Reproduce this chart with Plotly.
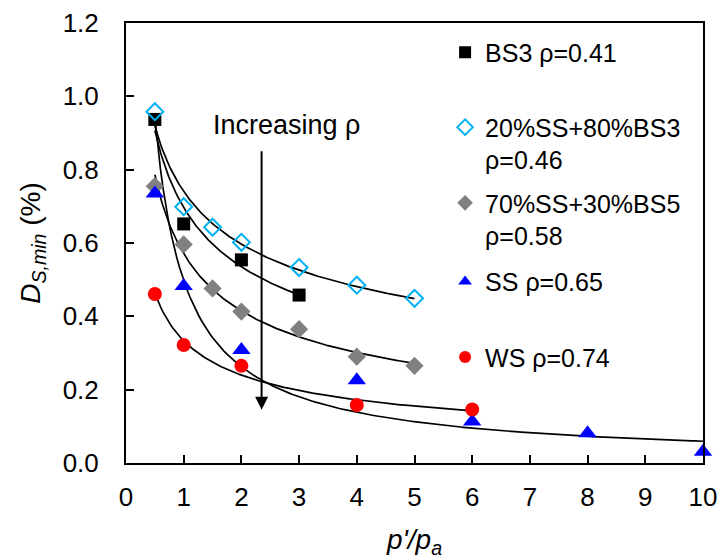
import numpy as np
import plotly.graph_objects as go

# ---- data ----
bs3_x = [0.5, 1, 2, 3]
bs3_y = [0.937, 0.652, 0.554, 0.458]

mix20_x = [0.5, 1, 1.5, 2, 3, 4, 5]
mix20_y = [0.958, 0.699, 0.643, 0.602, 0.533, 0.485, 0.449]

mix70_x = [0.5, 1, 1.5, 2, 3, 4, 5]
mix70_y = [0.755, 0.596, 0.476, 0.413, 0.365, 0.290, 0.265]

ss_x = [0.5, 1, 2, 4, 6, 8, 10]
ss_y = [0.735, 0.483, 0.308, 0.226, 0.113, 0.081, 0.031]

ws_x = [0.5, 1, 2, 4, 6]
ws_y = [0.461, 0.322, 0.265, 0.158, 0.146]

names = ["BS3 ρ=0.41", "20%SS+80%BS3<br>ρ=0.46", "70%SS+30%BS5<br>ρ=0.58",
         "SS ρ=0.65", "WS ρ=0.74"]

x_ticks = list(range(0, 11))
y_ticks = [0.0, 0.2, 0.4, 0.6, 0.8, 1.0, 1.2]

FONT = "Liberation Sans, Arial, sans-serif"

series = [
    (bs3_x, bs3_y, names[0], dict(symbol="square", color="black", size=13)),
    (mix20_x, mix20_y, names[1], dict(symbol="diamond-open", color="#00B0F0", size=13,
                                       line=dict(width=2, color="#00B0F0"))),
    (mix70_x, mix70_y, names[2], dict(symbol="diamond", color="#808080", size=14)),
    (ss_x, ss_y, names[3], dict(symbol="triangle-up", color="#0000FF", size=16)),
    (ws_x, ws_y, names[4], dict(symbol="circle", color="#FF0000", size=14)),
]

fig = go.Figure()

# power-law trendlines fitted to each series
for xs, ys, nm, mk in series:
    b, lna = np.polyfit(np.log(xs), np.log(ys), 1)
    xf = np.linspace(min(xs), max(xs), 200)
    yf = np.exp(lna) * xf ** b
    fig.add_trace(go.Scatter(x=xf, y=yf, mode="lines", line=dict(color="black", width=1.7),
                             showlegend=False, hoverinfo="skip"))

legend_ids = ["legend", "legend2", "legend3", "legend4", "legend5"]
for i, (xs, ys, nm, mk) in enumerate(series):
    fig.add_trace(go.Scatter(x=xs, y=ys, mode="markers", name=nm, marker=mk,
                             legend=legend_ids[i], cliponaxis=False))

fig.add_annotation(x=2.35, y=0.145, ax=2.35, ay=0.854, xref="x", yref="y",
                   axref="x", ayref="y", showarrow=True, arrowhead=2, arrowsize=1.3,
                   arrowwidth=2, arrowcolor="black", text="")
fig.add_annotation(x=2.78, y=0.922, xref="x", yref="y", text="Increasing ρ",
                   showarrow=False, font=dict(size=27, color="black", family=FONT))

axis_common = dict(showline=True, linecolor="black", linewidth=2, mirror=True,
                   ticks="inside", ticklen=8, tickwidth=1.5, tickcolor="black",
                   showgrid=False, zeroline=False,
                   tickfont=dict(size=26, color="black", family=FONT))

fig.update_xaxes(range=[0, 10], tickvals=x_ticks, ticktext=[str(v) for v in x_ticks],
                 title=dict(text="<i>p'/p</i><sub><i>a</i></sub>", standoff=18,
                            font=dict(size=28, color="black", family=FONT)),
                 ticklabelstandoff=10, **axis_common)
fig.update_yaxes(range=[0, 1.2], tickvals=y_ticks, tickformat=".1f",
                 title=dict(text="<i>D</i><sub><i>S,min</i></sub> (%)", standoff=14,
                            font=dict(size=28, color="black", family=FONT)),
                 ticklabelstandoff=20, **axis_common)

legend_tops = [0.985, 0.815, 0.643, 0.464, 0.2925]
legend_layout = {}
for lid, ytop in zip(legend_ids, legend_tops):
    legend_layout[lid] = dict(x=0.553, y=ytop, xanchor="left", yanchor="top",
                              bgcolor="rgba(0,0,0,0)", valign="top",
                              itemsizing="constant",
                              font=dict(size=25, color="black", family=FONT))

fig.update_layout(
    width=721, height=560,
    margin=dict(l=126, r=18, t=23, b=97, autoexpand=False),
    plot_bgcolor="white", paper_bgcolor="white",
    font=dict(family=FONT, color="black"),
    **legend_layout,
)

fig.write_html("out.html")
